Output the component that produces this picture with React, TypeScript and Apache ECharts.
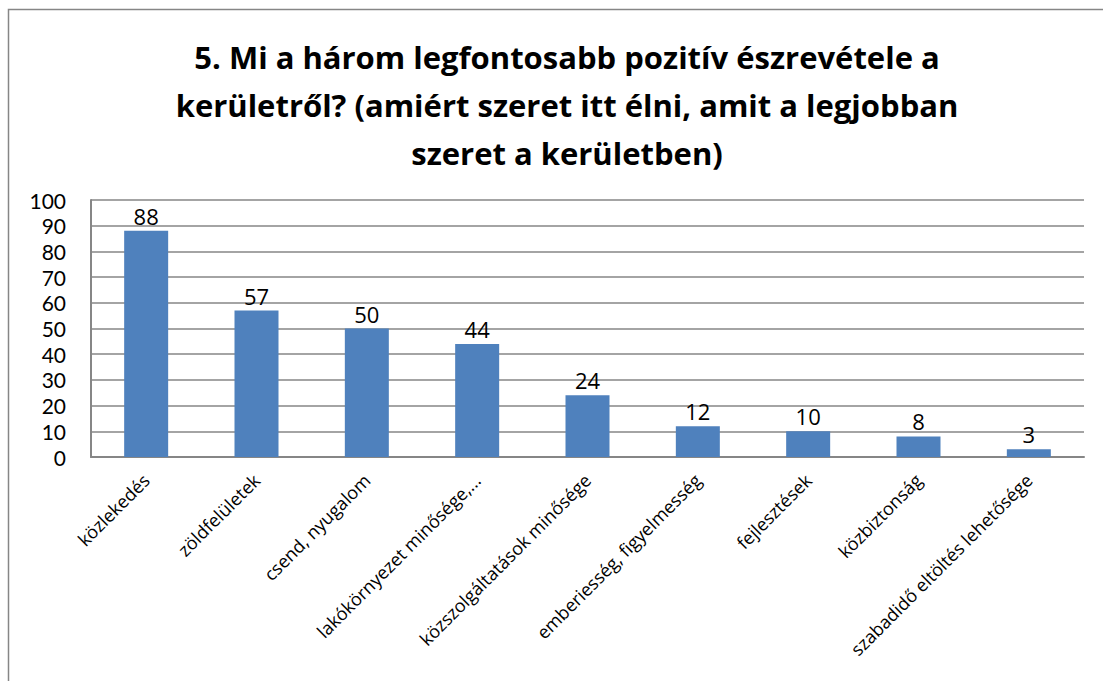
import React, { useEffect, useRef } from "react";
import * as echarts from "echarts";

const categories = [
  "közlekedés",
  "zöldfelületek",
  "csend, nyugalom",
  "lakókörnyezet minősége,...",
  "közszolgáltatások minősége",
  "emberiesség, figyelmesség",
  "fejlesztések",
  "közbiztonság",
  "szabadidő eltöltés lehetősége",
];
const values = [88, 57, 50, 44, 24, 12, 10, 8, 3];
const titleLines = [
  "5. Mi a három legfontosabb pozitív észrevétele a",
  "kerületről? (amiért szeret itt élni, amit a legjobban",
  "szeret a kerületben)",
];

export default function App() {
  const ref = useRef<HTMLDivElement>(null);
  useEffect(() => {
    if (!ref.current) return;
    const chart = echarts.init(ref.current, null, { renderer: "svg" });
    const font = "Open Sans";
    chart.setOption({
      animation: false,
      backgroundColor: "#ffffff",
      title: {
        text: titleLines.join("\n"),
        left: 562,
        textAlign: "center",
        top: 28,
        textStyle: {
          fontFamily: font,
          fontWeight: "bold",
          fontSize: 31,
          lineHeight: 48,
          color: "#000",
        },
      },
      graphic: [
        {
          type: "rect",
          shape: { x: 8.5, y: 9.5, width: 1120, height: 700 },
          style: { fill: "none", stroke: "#868686", lineWidth: 1.5 },
          silent: true,
        },
      ],
      grid: { left: 91, right: 19, top: 200, bottom: 224 },
      xAxis: {
        type: "category",
        data: categories,
        axisLine: { show: true, lineStyle: { color: "#868686", width: 2 } },
        axisTick: { show: false },
        axisLabel: {
          interval: 0,
          rotate: 45,
          fontFamily: font,
          fontSize: 18,
          color: "#000",
          margin: 20,
        },
      },
      yAxis: {
        type: "value",
        min: 0,
        max: 100,
        interval: 10,
        axisLine: { show: true, lineStyle: { color: "#868686", width: 2 } },
        axisTick: { show: false },
        splitLine: { lineStyle: { color: "#868686", width: 1.5 } },
        axisLabel: {
          fontFamily: "Lato",
          fontSize: 21,
          lineHeight: 21,
          color: "#000",
          margin: 25,
        },
      },
      series: [
        {
          type: "bar",
          data: values,
          barWidth: 44,
          itemStyle: { color: "#4F81BD" },
          label: {
            show: true,
            position: "top",
            distance: 4,
            fontFamily: font,
            fontSize: 22,
            color: "#000",
          },
        },
      ],
    });
    return () => chart.dispose();
  }, []);
  return (
    <div
      ref={ref}
      style={{ position: "absolute", left: 0, top: 0, width: 1103, height: 681 }}
    />
  );
}
